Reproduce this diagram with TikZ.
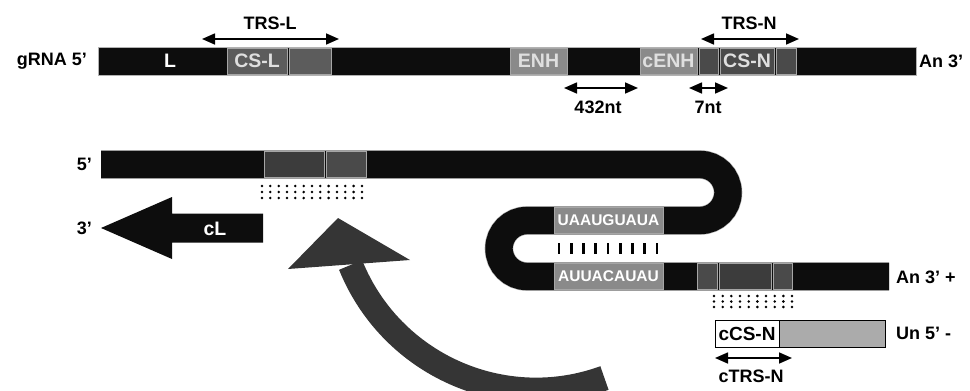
\documentclass[tikz,border=0pt]{standalone}
\usepackage{fontspec}
\setmainfont{Liberation Sans}
\usetikzlibrary{arrows.meta}

\definecolor{rnablack}{HTML}{0D0D0D}
\definecolor{segdark}{HTML}{5C5C5C}
\definecolor{seglight}{HTML}{8A8A8A}
\definecolor{segdeep}{HTML}{3C3C3C}
\definecolor{segmid}{HTML}{4A4A4A}
\definecolor{arcgray}{HTML}{353535}
\definecolor{cgray}{HTML}{ABABAB}

\begin{document}
\begin{tikzpicture}[x=1pt, y=-1pt,
    lbl/.style={font=\bfseries\fontsize{18}{20}\selectfont, inner sep=0pt},
    strand/.style={rectangle, fill=rnablack, draw=gray!60, line width=0.6pt, inner sep=0pt, minimum height=28pt},
    seg/.style={rectangle, draw=gray!70, line width=0.4pt, inner sep=0pt, minimum height=26pt, font=\bfseries\fontsize{19.5}{21}\selectfont, text=gray!25},
    motif/.style={seg, fill=seglight, text=white, minimum width=109pt, font=\bfseries\fontsize{15.5}{17}\selectfont},
    span/.style={{Triangle[length=13pt,width=11pt]}-{Triangle[length=13pt,width=11pt]}, line width=1.6pt}
]
\useasboundingbox (0,0) rectangle (970,391);

% gRNA
\node[strand, minimum width=818pt, anchor=west] (grna) at (98,61) {};
\node[lbl, anchor=east] (g5) at (87,61) {gRNA 5’};
\node[lbl, anchor=west] (g3) at (919,61) {An 3’};
\node[lbl, text=white, font=\bfseries\fontsize{19.5}{21}\selectfont] (lreg) at (170,61) {L};
\node[seg, fill=segdark, minimum width=60pt] (csl) at (257,61) {CS-L};
\node[seg, fill=segdark, minimum width=42pt] (csl2) at (310,61) {};
\node[seg, fill=seglight, minimum width=57pt] (enh) at (538.5,61) {ENH};
\node[seg, fill=seglight, minimum width=57pt] (cenh) at (668.5,61) {cENH};
\node[seg, fill=segmid, minimum width=19pt] (gapn) at (708.5,61) {};
\node[seg, fill=segmid, minimum width=54pt] (csn) at (747,61) {CS-N};
\node[seg, fill=segmid, minimum width=20pt] (csn2) at (786,61) {};

% spans above and below
\coordinate (trsl-a) at (202,39);
\coordinate (trsl-b) at (339,39);
\draw[span] (trsl-a) -- (trsl-b);
\node[lbl] (trsl) at (270,23) {TRS-L};
\coordinate (trsn-a) at (701,39);
\coordinate (trsn-b) at (799,39);
\draw[span] (trsn-a) -- (trsn-b);
\node[lbl] (trsn) at (749,23) {TRS-N};
\coordinate (d432-a) at (564,88);
\coordinate (d432-b) at (638,88);
\draw[span] (d432-a) -- (d432-b);
\node[lbl] (d432) at (598,107) {432nt};
\coordinate (d7-a) at (689,88);
\coordinate (d7-b) at (728,88);
\draw[span] (d7-a) -- (d7-b);
\node[lbl] (d7) at (708,107) {7nt};

% folded strand
\draw[draw=gray!60, line width=0.6pt, double=rnablack, double distance=27.4pt]
    (101,164.5) -- (700,164.5) arc[start angle=90, end angle=-90, radius=28pt]
    -- (527,220.5) arc[start angle=90, end angle=270, radius=28pt] -- (889,276.5);
\node[lbl, anchor=east] (s5) at (92,164.5) {5’};
\node[seg, fill=segdeep, minimum width=60pt] (lbox) at (294,164.5) {};
\node[seg, fill=segmid, minimum width=40pt] (lbox2) at (346,164.5) {};
\node[motif] (uaa) at (608.5,220.5) {UAAUGUAUA};
\node[motif] (auu) at (608.5,276.5) {AUUACAUAU};
\node[seg, fill=segmid, minimum width=20pt] (nbox) at (707,276.5) {};
\node[seg, fill=segdeep, minimum width=52pt] (nbox2) at (745,276.5) {};
\node[seg, fill=segmid, minimum width=19pt] (nbox3) at (782.5,276.5) {};
\node[lbl, anchor=west] (s3) at (896,277) {An 3’ +};

% pairing marks
\foreach \i in {0,...,12}
  \foreach \j in {186,192,198}
    \fill (262+8.33*\i,\j) circle (1.4pt);
\foreach \i in {0,...,9}
  \foreach \j in {296,301.5,307}
    \fill (714+8.67*\i,\j) circle (1.4pt);
\foreach \i in {0,...,8}
  \draw[line width=2.6pt] (559+12.25*\i,243) -- ++(0,11);

% cL
\fill[rnablack] (101,228) -- (172,197) -- (172,213.5) -- (263,213.5)
    -- (263,242.5) -- (172,242.5) -- (172,259) -- cycle;
\node[lbl, anchor=east] (c3) at (92,228) {3’};
\node[lbl, text=white, font=\bfseries\fontsize{19.5}{21}\selectfont] (cl) at (215,229) {cL};

% negative strand
\node[seg, draw=black, fill=white, text=black, minimum width=64pt, minimum height=27pt, font=\bfseries\fontsize{19}{21}\selectfont] (ccsn) at (747,333.5) {cCS-N};
\node[seg, draw=black, fill=cgray, minimum width=106pt, minimum height=27pt, anchor=west] (ctail) at (ccsn.east) {};
\node[lbl, anchor=west] (u5) at (896,333.5) {Un 5’ -};
\coordinate (ctrs-a) at (715,358);
\coordinate (ctrs-b) at (792,358);
\draw[span] (ctrs-a) -- (ctrs-b);
\node[lbl] (ctrs) at (751,376) {cTRS-N};

% curved arrow
\begin{scope}
\clip (0,0) rectangle (970,391);
\draw[arcgray, line width=25pt] (350.6,265) arc[start angle=-158, end angle=-70, radius=200pt];
\fill[arcgray] (338,218) -- (410,260) -- (288,269) -- cycle;
\end{scope}

\end{tikzpicture}
\end{document}
